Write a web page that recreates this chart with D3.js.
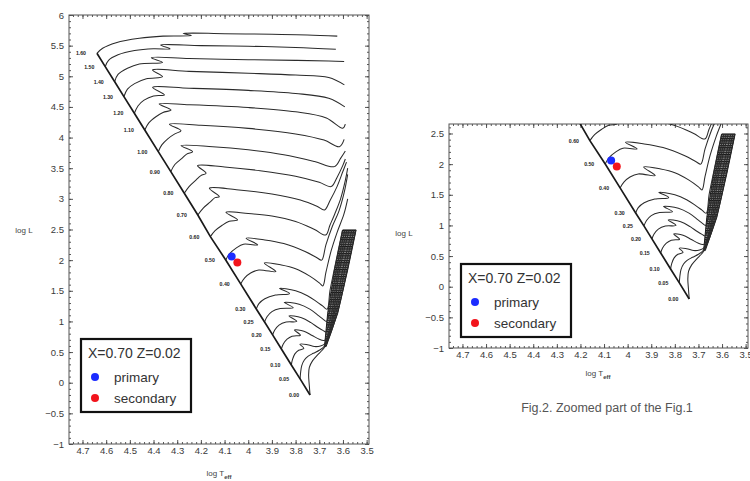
<!DOCTYPE html>
<html><head><meta charset="utf-8">
<script src="https://cdn.jsdelivr.net/npm/d3@7"></script>
<style>
body{margin:0;background:#fff}
svg{display:block}
text{font-family:"Liberation Sans",Arial,sans-serif}
</style>
</head><body>
<svg id="chart" width="750" height="481"></svg>
<script>
// Evolutionary tracks, X=0.70 Z=0.02 — [log Teff, log L] pairs, labelled by log M
const t160 = [[4.639,5.375],[4.615,5.457],[4.558,5.548],[4.46,5.62],[4.36,5.655],[4.24,5.665],[4.275,5.70],[4.1,5.695],[3.9,5.685],[3.75,5.675],[3.624,5.655]];
const t150 = [[4.604,5.157],[4.59,5.26],[4.55,5.35],[4.48,5.42],[4.40,5.45],[4.33,5.448],[4.37,5.51],[4.2,5.5],[4.0,5.49],[3.8,5.47],[3.63,5.44]];
const t140 = [[4.564,4.912],[4.55,5.03],[4.51,5.13],[4.46,5.2],[4.362,5.228],[4.409,5.303],[4.25,5.29],[4.0,5.27],[3.8,5.26],[3.66,5.25],[3.595,5.24]];
const t130 = [[4.525,4.668],[4.51,4.79],[4.48,4.88],[4.43,4.96],[4.362,4.993],[4.404,5.103],[4.25,5.08],[4.0,5.05],[3.8,5.02],[3.66,4.98],[3.594,4.86]];
const t120 = [[4.481,4.396],[4.465,4.52],[4.44,4.61],[4.40,4.68],[4.354,4.695],[4.404,4.82],[4.25,4.805],[4.0,4.77],[3.8,4.72],[3.66,4.64],[3.592,4.5]];
const t110 = [[4.437,4.124],[4.42,4.24],[4.39,4.34],[4.36,4.41],[4.326,4.45],[4.376,4.548],[4.25,4.535],[4.0,4.49],[3.8,4.42],[3.67,4.32],[3.601,4.152],[3.59,4.22]];
const t100 = [[4.38,3.77],[4.365,3.88],[4.34,3.98],[4.31,4.06],[4.284,4.113],[4.333,4.217],[4.2,4.2],[4.0,4.15],[3.8,4.06],[3.68,3.96],[3.615,3.852],[3.595,3.97]];
const t090 = [[4.327,3.444],[4.31,3.56],[4.28,3.66],[4.26,3.73],[4.235,3.77],[4.284,3.868],[4.15,3.85],[4.0,3.8],[3.85,3.72],[3.72,3.61],[3.636,3.526],[3.61,3.66],[3.59,3.78]];
const t080 = [[4.27,3.091],[4.25,3.2],[4.22,3.31],[4.2,3.38],[4.178,3.418],[4.214,3.542],[4.1,3.52],[3.95,3.46],[3.8,3.37],[3.7,3.27],[3.65,3.2],[3.625,3.35],[3.6,3.55],[3.59,3.65]];
const t070 = [[4.213,2.737],[4.19,2.85],[4.16,2.95],[4.14,3.02],[4.122,3.036],[4.164,3.173],[4.05,3.15],[3.9,3.08],[3.78,2.98],[3.71,2.88],[3.678,2.82],[3.655,2.97],[3.625,3.2],[3.6,3.45],[3.585,3.6]];
const t060 = [[4.16,2.383],[4.14,2.48],[4.11,2.57],[4.08,2.635],[4.045,2.656],[4.094,2.781],[4.0,2.76],[3.9,2.72],[3.8,2.63],[3.72,2.5],[3.673,2.41],[3.655,2.57],[3.635,2.75],[3.61,3.0],[3.59,3.3],[3.58,3.5]];
const t050 = [[4.095,2.003],[4.08,2.1],[4.05,2.2],[4.02,2.26],[3.96,2.248],[4.009,2.357],[3.93,2.33],[3.85,2.27],[3.76,2.14],[3.71,2.04],[3.69,2.0],[3.672,2.25],[3.645,2.55],[3.617,2.8],[3.595,3.1],[3.58,3.4]];
const t040 = [[4.032,1.612],[4.015,1.71],[3.99,1.79],[3.955,1.84],[3.883,1.812],[3.932,1.954],[3.86,1.92],[3.8,1.86],[3.74,1.74],[3.7,1.63],[3.685,1.58],[3.672,1.8],[3.65,2.15],[3.625,2.45],[3.596,2.75],[3.58,3.0]];
const t030 = [[3.966,1.204],[3.955,1.29],[3.93,1.37],[3.885,1.43],[3.826,1.455],[3.868,1.54],[3.8,1.5],[3.75,1.42],[3.71,1.32],[3.685,1.25],[3.667,1.2],[3.655,1.5],[3.637,1.84],[3.602,2.49]];
const t025 = [[3.931,0.992],[3.92,1.08],[3.9,1.16],[3.865,1.21],[3.81,1.225],[3.848,1.31],[3.785,1.28],[3.74,1.2],[3.705,1.1],[3.682,1.03],[3.67,1.0],[3.658,1.134],[3.628,1.84],[3.592,2.49]];
const t020 = [[3.897,0.78],[3.888,0.86],[3.87,0.94],[3.84,0.99],[3.795,1.0],[3.828,1.09],[3.775,1.06],[3.735,0.98],[3.705,0.9],[3.683,0.85],[3.672,0.83],[3.648,1.134],[3.621,1.84],[3.583,2.49]];
const t015 = [[3.86,0.551],[3.852,0.63],[3.836,0.71],[3.815,0.76],[3.78,0.775],[3.805,0.86],[3.765,0.84],[3.73,0.77],[3.7,0.71],[3.682,0.69],[3.673,0.7],[3.641,1.134],[3.614,1.84],[3.574,2.49]];
const t010 = [[3.818,0.29],[3.813,0.38],[3.803,0.47],[3.787,0.53],[3.765,0.56],[3.782,0.63],[3.75,0.62],[3.72,0.59],[3.695,0.6],[3.676,0.64],[3.636,1.134],[3.601,1.84],[3.563,2.49]];
const t005 = [[3.781,0.062],[3.779,0.16],[3.774,0.28],[3.763,0.37],[3.748,0.43],[3.725,0.48],[3.7,0.53],[3.678,0.6],[3.63,1.134],[3.592,1.84],[3.554,2.49]];
const t000 = [[3.739,-0.2],[3.742,-0.05],[3.745,0.12],[3.742,0.25],[3.728,0.36],[3.708,0.45],[3.688,0.53],[3.676,0.59],[3.624,1.134],[3.582,1.84],[3.546,2.49]];

const trackLabels = ["1.60","1.50","1.40","1.30","1.20","1.10","1.00","0.90","0.80","0.70","0.60","0.50","0.40","0.30","0.25","0.20","0.15","0.10","0.05","0.00"];
const trackData = [t160,t150,t140,t130,t120,t110,t100,t090,t080,t070,t060,t050,t040,t030,t025,t020,t015,t010,t005,t000];

// red giant branch band, edges listed from bottom to top
const bandLeft  = [[3.678,0.59],[3.6645,1.134],[3.636,1.84],[3.601,2.493]];
const bandRight = [[3.671,0.59],[3.622,1.134],[3.58,1.84],[3.5445,2.493]];

// binary components
const starNames  = ["primary","secondary"];
const starLogT   = [4.07, 4.046];
const starLogL   = [2.06, 1.96];
const starColors = ["#1c2cff","#f2141c"];
const legendTitle = "X=0.70 Z=0.02";

const xTickValues = [4.7,4.6,4.5,4.4,4.3,4.2,4.1,4.0,3.9,3.8,3.7,3.6,3.5];
const xTickLabels = ["4.7","4.6","4.5","4.4","4.3","4.2","4.1","4","3.9","3.8","3.7","3.6","3.5"];
const yTickValues = [-1,-0.5,0,0.5,1,1.5,2,2.5,3,3.5,4,4.5,5,5.5,6];
const yTickLabels = ["\u22121","\u22120.5","0","0.5","1","1.5","2","2.5","3","3.5","4","4.5","5","5.5","6"];
const caption = "Fig.2. Zoomed part of the Fig.1";

const svg = d3.select("#chart");
const defs = svg.append("defs");

const hatch = defs.append("pattern").attr("id","rgbHatch")
  .attr("patternUnits","userSpaceOnUse").attr("width",6).attr("height",2.3);
hatch.append("rect").attr("width",6).attr("height",2.3).attr("fill","#8a8a8a");
hatch.append("line").attr("x1",0).attr("x2",6).attr("y1",0.6).attr("y2",0.6)
  .attr("stroke","#151515").attr("stroke-width",1.2);

const panels = [
  {x0:69, x1:369, y0:15,  y1:444, lTop:6,     legend:[81,339],  xTitle:[219,476], yTitle:[24,233]},
  {x0:449,x1:748, y0:124, y1:348, lTop:2.655, legend:[461,264], xTitle:[598,376], yTitle:[404,236]}
];

panels.forEach((p, idx) => {
  const x = d3.scaleLinear().domain([4.757, 3.49]).range([p.x0, p.x1]);
  const y = d3.scaleLinear().domain([-1, p.lTop]).range([p.y1, p.y0]);
  const g = svg.append("g");

  defs.append("clipPath").attr("id","plotClip"+idx).append("rect")
    .attr("x",p.x0).attr("y",p.y0).attr("width",p.x1-p.x0).attr("height",p.y1-p.y0);

  // axes: ticks point inward on every side
  const tickStyle = sel => {
    sel.select(".domain").remove();
    sel.selectAll(".tick line").attr("stroke","#444").attr("stroke-width",0.9);
    sel.selectAll(".tick text").attr("fill","#3a3a3a").style("font-size","9.5px")
      .style("font-family","'Liberation Sans',Arial,sans-serif");
  };
  const xMinor = d3.range(3.5, 4.757, 0.02);
  const yMinor = d3.range(-1, p.lTop + 0.001, 0.1);
  const yMajor = yTickValues.filter(v => v <= p.lTop + 1e-9);

  g.append("g").attr("transform",`translate(0,${p.y1})`)
    .call(d3.axisBottom(x).tickValues(xTickValues).tickSize(-4).tickPadding(3)
      .tickFormat((d,i) => xTickLabels[i])).call(tickStyle);
  g.append("g").attr("transform",`translate(0,${p.y1})`)
    .call(d3.axisBottom(x).tickValues(xMinor).tickSize(-2).tickFormat("")).call(tickStyle);
  g.append("g").attr("transform",`translate(0,${p.y0})`)
    .call(d3.axisTop(x).tickValues(xTickValues).tickSize(-4).tickFormat("")).call(tickStyle);
  g.append("g").attr("transform",`translate(0,${p.y0})`)
    .call(d3.axisTop(x).tickValues(xMinor).tickSize(-2).tickFormat("")).call(tickStyle);

  g.append("g").attr("transform",`translate(${p.x0},0)`)
    .call(d3.axisLeft(y).tickValues(yMajor).tickSize(-4).tickPadding(5)
      .tickFormat(d => yTickLabels[yTickValues.indexOf(d)])).call(tickStyle);
  g.append("g").attr("transform",`translate(${p.x0},0)`)
    .call(d3.axisLeft(y).tickValues(yMinor).tickSize(-2).tickFormat("")).call(tickStyle);
  g.append("g").attr("transform",`translate(${p.x1},0)`)
    .call(d3.axisRight(y).tickValues(yMajor).tickSize(-4).tickFormat("")).call(tickStyle);
  g.append("g").attr("transform",`translate(${p.x1},0)`)
    .call(d3.axisRight(y).tickValues(yMinor).tickSize(-2).tickFormat("")).call(tickStyle);

  g.append("rect").attr("x",p.x0).attr("y",p.y0)
    .attr("width",p.x1-p.x0).attr("height",p.y1-p.y0)
    .attr("fill","none").attr("stroke","#555").attr("stroke-width",1);

  const plot = g.append("g").attr("clip-path",`url(#plotClip${idx})`);

  // RGB band
  const bandPoly = bandLeft.concat(bandRight.slice().reverse());
  plot.append("path")
    .attr("d", d3.line().x(d => x(d[0])).y(d => y(d[1]))(bandPoly) + "Z")
    .attr("fill","url(#rgbHatch)").attr("stroke","#1a1a1a").attr("stroke-width",1);

  // tracks
  const line = d3.line().x(d => x(d[0])).y(d => y(d[1])).curve(d3.curveCatmullRom.alpha(0.5));
  plot.selectAll("path.track").data(trackData).join("path").attr("class","track")
    .attr("d", line).attr("fill","none").attr("stroke","#2b2b2b").attr("stroke-width",1.05)
    .attr("stroke-linejoin","round");

  // ZAMS through the track starting points
  plot.append("path")
    .attr("d", d3.line().x(d => x(d[0])).y(d => y(d[1]))(trackData.map(t => t[0])))
    .attr("fill","none").attr("stroke","#1a1a1a").attr("stroke-width",1.7);

  // log M labels, only for tracks that start inside this panel
  const shown = trackData.map((t, i) => ({t, i})).filter(o => o.t[0][1] <= p.lTop);
  plot.selectAll("text.mass").data(shown).join("text").attr("class","mass")
    .attr("x", o => x(o.t[0][0]) - 16).attr("y", o => y(o.t[0][1]) + 2)
    .attr("text-anchor","middle").style("font-size","5.2px").style("font-weight","bold")
    .attr("fill","#222").text(o => trackLabels[o.i]);

  // binary components
  plot.selectAll("circle.star").data(starNames).join("circle").attr("class","star")
    .attr("cx",(d,i) => x(starLogT[i])).attr("cy",(d,i) => y(starLogL[i]))
    .attr("r",4).attr("fill",(d,i) => starColors[i]);

  // axis titles
  g.append("text").attr("x",p.yTitle[0]).attr("y",p.yTitle[1]).attr("text-anchor","middle")
    .style("font-size","8px").attr("fill","#444").text("log L");
  const xt = g.append("text").attr("x",p.xTitle[0]).attr("y",p.xTitle[1]).attr("text-anchor","middle")
    .style("font-size","8px").attr("fill","#444");
  xt.append("tspan").text("log T");
  xt.append("tspan").attr("dy",2.5).style("font-size","6px").style("font-weight","bold").text("eff");

  // legend
  const [lx, ly] = p.legend;
  const lg = g.append("g");
  lg.append("rect").attr("x",lx).attr("y",ly).attr("width",110).attr("height",73)
    .attr("fill","#fff").attr("stroke","#111").attr("stroke-width",2.2);
  lg.append("text").attr("x",lx+7).attr("y",ly+19).style("font-size","14px")
    .attr("fill","#333").text(legendTitle);
  starNames.forEach((name, i) => {
    lg.append("circle").attr("cx",lx+14).attr("cy",ly+38+i*21).attr("r",4)
      .attr("fill",starColors[i]);
    lg.append("text").attr("x",lx+33).attr("y",ly+43+i*21).style("font-size","13.5px")
      .attr("fill","#333").text(name);
  });
});

svg.append("text").attr("x",607).attr("y",412).attr("text-anchor","middle")
  .style("font-size","12.5px").attr("fill","#555").text(caption);
</script>
</body></html>
